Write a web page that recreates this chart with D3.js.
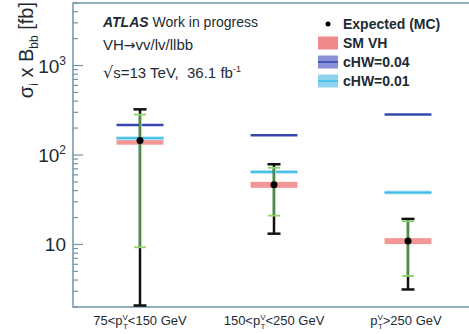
<!DOCTYPE html>
<html>
<head>
<meta charset="utf-8">
<script src="https://cdnjs.cloudflare.com/ajax/libs/d3/7.8.5/d3.min.js"></script>
<style>
  body { margin: 0; background: #fff; }
  text { font-family: "Liberation Sans", Arial, sans-serif; white-space: pre; }
</style>
</head>
<body>
<div id="chart-area"></div>
<script>
// pT bins
var binPre = ["75<p", "150<p", "p"];
var binPost = ["<150 GeV", "<250 GeV", ">250 GeV"];
var bins = ["b1", "b2", "b3"];

// cross sections [fb]
var smVH = [141, 46.4, 10.9];
var cHW004 = [217, 166, 283];
var cHW001 = [154, 64.7, 38.1];
var expected = [145, 46.4, 10.9];
// error bars (black = total, green = inner)
var errLo = [1.5, 13.2, 3.14];
var errHi = [324, 78.8, 19.3];
var innerLo = [9.3, 21, 4.45];
var innerHi = [283, 72, 18.2];

var yTicks = [10, 100, 1000];

var margin = { left: 73, right: -6, top: 3, bottom: 27 };
var W = 469, H = 334;
var width = W - margin.left - margin.right,
    height = H - margin.top - margin.bottom;

var svg = d3.select("#chart-area").append("svg")
    .attr("width", W)
    .attr("height", H);

var g = svg.append("g").attr("transform", "translate(" + margin.left + "," + margin.top + ")");

var x = d3.scaleBand().domain(bins).range([0, width]);
var y = d3.scaleLog().domain([2, 5000]).range([height, 0]);

var axisColor = "#6f95a6";

// minor + major ticks (inward)
var allTicks = [];
for (var e = 0; e <= 3; e++) {
    for (var m = 1; m <= 9; m++) {
        var v = m * Math.pow(10, e);
        if (v >= 2 && v <= 5000) allTicks.push(v);
    }
}
g.selectAll(".ytick")
    .data(allTicks)
    .enter().append("line")
    .attr("x1", 0)
    .attr("x2", (d) => yTicks.indexOf(d) >= 0 ? 10 : 5)
    .attr("y1", (d) => y(d))
    .attr("y2", (d) => y(d))
    .attr("stroke", axisColor)
    .attr("stroke-width", 1.2);

// frame
g.append("rect")
    .attr("x", 0).attr("y", 0)
    .attr("width", width).attr("height", height)
    .attr("fill", "none")
    .attr("stroke", axisColor)
    .attr("stroke-width", 1.5);

// y tick labels
var yl = g.selectAll(".ylab")
    .data(yTicks)
    .enter().append("text")
    .attr("x", -7)
    .attr("y", (d) => y(d) + 7)
    .attr("text-anchor", "end")
    .attr("font-size", "19px")
    .style("fill", "#1d2b33");
yl.append("tspan").text("10");
yl.append("tspan")
    .attr("dy", -8)
    .attr("font-size", "12px")
    .text((d) => d === 10 ? "" : String(Math.round(Math.log10(d))));

// y axis label
var ylab = svg.append("text")
    .attr("transform", "translate(33, 2) rotate(-90)")
    .attr("text-anchor", "end")
    .attr("font-size", "20px")
    .style("fill", "#1d2b33");
ylab.append("tspan").text("σ");
ylab.append("tspan").attr("dy", 5).attr("font-size", "12px").text("i");
ylab.append("tspan").attr("dy", -5).text(" x B");
ylab.append("tspan").attr("dy", 5).attr("font-size", "12px").text("bb");
ylab.append("tspan").attr("dy", -5).text(" [fb]");

// x labels
bins.forEach((b, i) => {
    var t = g.append("text")
        .attr("x", x(b) + x.bandwidth() / 2 - (i === 2 ? 2 : 0))
        .attr("y", height + 18)
        .attr("text-anchor", "middle")
        .attr("font-size", "13px")
        .style("fill", "#1d2b33");
    t.append("tspan").text(binPre[i]);
    t.append("tspan").attr("dy", -5).attr("font-size", "8px").text("V");
    t.append("tspan").attr("dx", -5).attr("dy", 9).attr("font-size", "8px").text("T");
    t.append("tspan").attr("dy", -4).text(binPost[i]);
});

var cx = (i) => x(bins[i]) + x.bandwidth() / 2;
var hw = x.bandwidth() * 0.175;
var idx = [0, 1, 2];

var plot = g.append("g");
svg.append("clipPath").attr("id", "clip")
    .append("rect").attr("width", width).attr("height", height);
plot.attr("clip-path", "url(#clip)");

// SM VH band
plot.selectAll(".sm").data(idx).enter().append("rect")
    .attr("x", (i) => cx(i) - hw)
    .attr("width", hw * 2)
    .attr("y", (i) => y(smVH[i]) - 3)
    .attr("height", 6)
    .attr("fill", "#f07c7c")
    .attr("opacity", 0.8);

// cHW=0.01
plot.selectAll(".c01b").data(idx).enter().append("rect")
    .attr("x", (i) => cx(i) - hw)
    .attr("width", hw * 2)
    .attr("y", (i) => y(cHW001[i]) - 2)
    .attr("height", 4)
    .attr("fill", "#b3e4f5");
plot.selectAll(".c01").data(idx).enter().append("line")
    .attr("x1", (i) => cx(i) - hw)
    .attr("x2", (i) => cx(i) + hw)
    .attr("y1", (i) => y(cHW001[i]))
    .attr("y2", (i) => y(cHW001[i]))
    .attr("stroke", "#3dbde6")
    .attr("stroke-width", 1.8);

// cHW=0.04
plot.selectAll(".c04").data(idx).enter().append("line")
    .attr("x1", (i) => cx(i) - hw)
    .attr("x2", (i) => cx(i) + hw)
    .attr("y1", (i) => y(cHW004[i]))
    .attr("y2", (i) => y(cHW004[i]))
    .attr("stroke", "#3546ad")
    .attr("stroke-width", 2.5);

// black error bars
plot.selectAll(".eb").data(idx).enter().append("line")
    .attr("x1", (i) => cx(i)).attr("x2", (i) => cx(i))
    .attr("y1", (i) => Math.min(y(errLo[i]), height - 1))
    .attr("y2", (i) => y(errHi[i]))
    .attr("stroke", "#111").attr("stroke-width", 2.5);
plot.selectAll(".ebt").data(idx).enter().append("line")
    .attr("x1", (i) => cx(i) - 6.5).attr("x2", (i) => cx(i) + 6.5)
    .attr("y1", (i) => y(errHi[i])).attr("y2", (i) => y(errHi[i]))
    .attr("stroke", "#111").attr("stroke-width", 2.5);
plot.selectAll(".ebb").data(idx).enter().append("line")
    .attr("x1", (i) => cx(i) - 6.5).attr("x2", (i) => cx(i) + 6.5)
    .attr("y1", (i) => Math.min(y(errLo[i]), height - 1.5))
    .attr("y2", (i) => Math.min(y(errLo[i]), height - 1.5))
    .attr("stroke", "#111").attr("stroke-width", 2.5);

// inner (green) error bars
plot.selectAll(".gy").data(idx).enter().append("line")
    .attr("x1", (i) => cx(i) + 1.2).attr("x2", (i) => cx(i) + 1.2)
    .attr("y1", (i) => y(innerLo[i])).attr("y2", (i) => y(innerHi[i]))
    .attr("stroke", "#e3e35a").attr("stroke-width", 1.2);
plot.selectAll(".gb").data(idx).enter().append("line")
    .attr("x1", (i) => cx(i) - 0.3).attr("x2", (i) => cx(i) - 0.3)
    .attr("y1", (i) => y(innerLo[i])).attr("y2", (i) => y(innerHi[i]))
    .attr("stroke", "#2fa646").attr("stroke-width", 1.8);
[innerLo, innerHi].forEach((arr) => {
    plot.selectAll(null).data(idx).enter().append("line")
        .attr("x1", (i) => cx(i) - 6).attr("x2", (i) => cx(i) + 6)
        .attr("y1", (i) => y(arr[i])).attr("y2", (i) => y(arr[i]))
        .attr("stroke", "#8fd46a").attr("stroke-width", 1.8);
});

// expected points
plot.selectAll(".pt").data(idx).enter().append("circle")
    .attr("cx", (i) => cx(i))
    .attr("cy", (i) => y(expected[i]))
    .attr("r", 3.5)
    .attr("fill", "#000");

// ATLAS labels
var t1 = svg.append("text").attr("x", 103).attr("y", 27).attr("font-size", "14px").style("fill", "#1d2b33");
t1.append("tspan").attr("font-weight", "bold").attr("font-style", "italic").text("ATLAS");
t1.append("tspan").text(" Work in progress");
var t2 = svg.append("text").attr("x", 103).attr("y", 50).attr("font-size", "15px").style("fill", "#1d2b33");
t2.append("tspan").text("VH");
t2.append("tspan").style("font-family", "'DejaVu Sans'").attr("font-size", "14px").text("→");
t2.append("tspan").text("vv/lv/llbb");
var t3 = svg.append("text").attr("x", 103).attr("y", 78).attr("font-size", "15px").style("fill", "#1d2b33");
t3.append("tspan").style("font-family", "'DejaVu Sans'").attr("font-size", "16px").text("√");
t3.append("tspan").text("s=13 TeV,  36.1 fb");
t3.append("tspan").attr("dy", -6).attr("font-size", "9px").text("-1");

// legend
var legLabels = ["SM VH", "cHW=0.04", "cHW=0.01"];
var legFill = ["#f08a8a", "#8a8fd6", "#8fd2f0"];
var legLine = ["#f08a8a", "#3546ad", "#3dbde6"];
var leg = svg.append("g");
leg.append("circle").attr("cx", 328).attr("cy", 24).attr("r", 2.5).attr("fill", "#000");
leg.append("text").attr("x", 343).attr("y", 29).attr("font-size", "14px").attr("font-weight", "bold")
    .style("fill", "#1d2b33").text("Expected (MC)");
legLabels.forEach((l, i) => {
    var yy = 43 + i * 19;
    leg.append("rect").attr("x", 318).attr("y", yy - 6.5).attr("width", 20).attr("height", 13)
        .attr("fill", legFill[i]);
    leg.append("line").attr("x1", 318).attr("x2", 338).attr("y1", yy).attr("y2", yy)
        .attr("stroke", legLine[i]).attr("stroke-width", 1.5);
    leg.append("text").attr("x", 343).attr("y", yy + 5).attr("font-size", "14px").attr("font-weight", "bold")
        .style("fill", "#1d2b33").text(l);
});
</script>
</body>
</html>
